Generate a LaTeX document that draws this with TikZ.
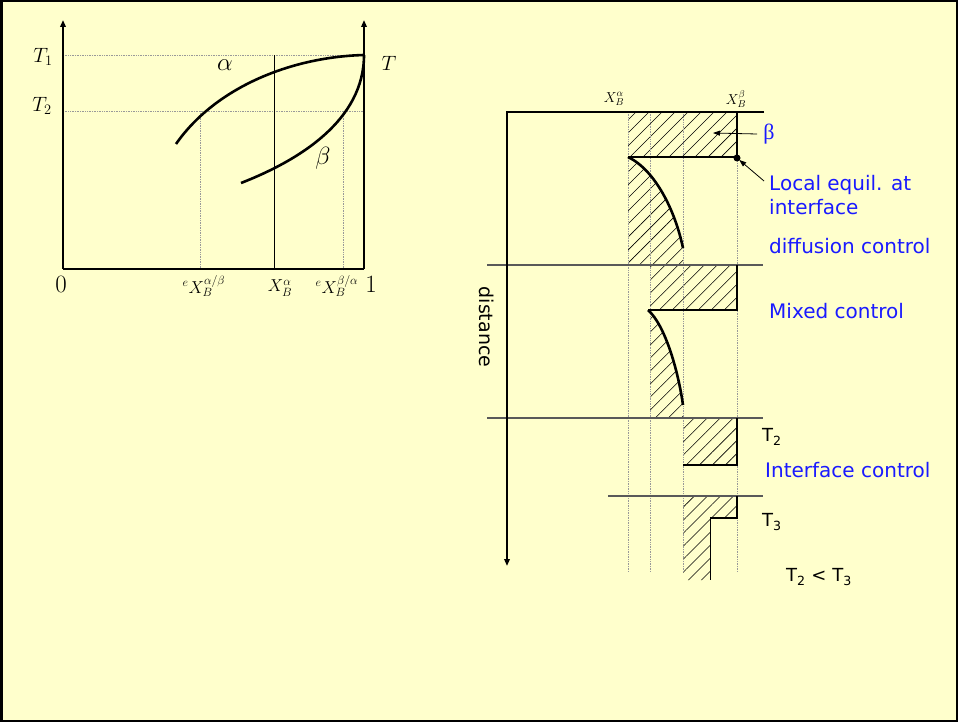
\documentclass[tikz,border=0pt]{standalone}
\usepackage{fontspec}
\newfontfamily\comicfont{DejaVu Sans}
\newfontfamily\greekfont{Liberation Serif}
\usetikzlibrary{arrows.meta,patterns.meta}
\definecolor{slideyellow}{RGB}{255,255,204}
\definecolor{labelblue}{RGB}{26,26,255}
\tikzset{
  axis/.style={black, line width=2pt, -{Triangle[length=7pt,width=5.5pt]}},
  guide/.style={black!40, line width=0.7pt, densely dotted},
  phase/.style={black, line width=2.6pt},
  front/.style={black, line width=2.6pt, line join=miter},
  sep/.style={black!65, line width=1.2pt},
  hatch/.style={pattern={Lines[angle=45,distance=9.2pt,line width=0.55pt]}},
  ptr/.style={-{Triangle[length=7pt,width=5pt]}, line width=0.8pt},
  mlab/.style={font=\fontsize{21}{23}\selectfont, inner sep=1pt},
  xlab/.style={font=\fontsize{17}{19}\selectfont, inner sep=1pt},
  biglab/.style={font=\fontsize{27}{30}\selectfont, inner sep=1pt},
  smalllab/.style={font=\fontsize{14}{16}\selectfont, inner sep=1pt},
  bluelab/.style={font=\comicfont\fontsize{20}{24}\selectfont, text=labelblue,
                  anchor=west, inner sep=0pt, align=left},
  blacklab/.style={font=\comicfont\fontsize{18}{20}\selectfont, anchor=west,
                   inner sep=0pt},
}

\begin{document}
\begin{tikzpicture}[x=1pt,y=-1pt]
  \path[use as bounding box, fill=slideyellow] (0,0) rectangle (958,722);
  \draw[black, line width=2.5pt] (1.25,1.25) rectangle (956.75,720.75);

  % Phase diagram: T against X_B.
  \draw[guide] (63,55) -- (364,55);
  \draw[guide] (63,111) -- (364,111);
  \draw[guide] (200,111) -- (200,269);
  \draw[guide] (343,111) -- (343,269);
  \draw[black, line width=0.8pt] (274,55) -- (274,269);
  \draw[axis] (63,269) -- (63,20);
  \draw[axis] (364,269) -- (364,20);
  \draw[black, line width=2pt] (63,269) -- (364,269);
  \draw[phase] (176,144) .. controls (215,88) and (290,57) .. (364,55);
  \draw[phase] (241,183) .. controls (300,160) and (364,120) .. (364,55);

  \node[mlab] (t1) at (43,57) {$T_1$};
  \node[mlab] (t2) at (42,106) {$T_2$};
  \node[mlab] (tt) at (389,63) {$T$};
  \node[biglab] (al) at (225,65) {$\alpha$};
  \node[biglab] (be) at (323,158) {$\beta$};
  \node[font=\fontsize{24}{26}\selectfont] (zero) at (61,284) {$0$};
  \node[font=\fontsize{24}{26}\selectfont] (one) at (371,284) {$1$};
  \node[xlab] (xab) at (204,286) {${}^{e}X_B^{\alpha/\beta}$};
  \node[xlab] (xa) at (280,288) {$X_B^{\alpha}$};
  \node[xlab] (xba) at (337,286) {${}^{e}X_B^{\beta/\alpha}$};

  % Concentration profiles against distance.
  \fill[hatch] (628,112) rectangle (737,157);
  \fill[hatch] (628,157) .. controls (655,170) and (675,210) .. (683,248)
    -- (683,265) -- (628,265) -- cycle;
  \fill[hatch] (650,265) rectangle (737,310);
  \fill[hatch] (650,310) .. controls (665,325) and (678,370) .. (683,405)
    -- (683,418) -- (650,418) -- cycle;
  \fill[hatch] (683,418) rectangle (737,465);
  \fill[hatch] (683,496) -- (737,496) -- (737,518) -- (710,518)
    -- (710,580) -- (683,580) -- cycle;

  \foreach \xx in {628,650,683,737}{
    \draw[guide] (\xx,112) -- (\xx,572);
  }
  \draw[sep] (487,265) -- (763,265);
  \draw[sep] (487,418) -- (763,418);
  \draw[sep] (608,496) -- (763,496);
  \draw[axis, line join=miter] (764,112) -- (507,112) -- (507,566);

  \draw[front] (737,112) -- (737,157) -- (628,157);
  \draw[front] (628,157) .. controls (655,170) and (675,210) .. (683,248);
  \draw[front] (737,265) -- (737,310) -- (648,310);
  \draw[front] (648,310) .. controls (665,325) and (678,370) .. (683,405);
  \draw[front] (737,418) -- (737,465) -- (683,465);
  \draw[front] (737,496) -- (737,518) -- (710,518);
  \draw[black, line width=1pt] (710,518) -- (710,580);
  \coordinate (eq) at (737,158);
  \fill (eq) circle (3.5);

  \node[smalllab] (xal) at (614,99) {$X_B^{\alpha}$};
  \node[smalllab] (xbe) at (736,99) {$X_B^{\beta}$};
  \node[font=\comicfont\fontsize{19}{22}\selectfont, rotate=-90] (dist)
    at (487,327) {distance};

  \coordinate (betatip) at (713,133);
  \node[font=\greekfont\fontsize{22}{24}\selectfont, text=labelblue,
        inner sep=6pt] (bphase) at (769,134) {β};
  \draw[ptr] (bphase.west) -- (betatip);

  \node[bluelab, anchor=north west] (loc) at (769,175)
    {Local equil. at\\interface};
  \draw[ptr, shorten >=3pt] ([shift={(-5,6)}]loc.north west) -- (eq);
  \node[bluelab] (diff) at (769,246) {diffusion control};
  \node[bluelab] (mixed) at (769,311) {Mixed control};
  \node[blacklab] (lt2) at (762,437) {T\textsubscript{2}};
  \node[bluelab] (intf) at (765,470) {Interface control};
  \node[blacklab] (lt3) at (762,522) {T\textsubscript{3}};
  \node[blacklab, anchor=center] (order) at (819,577)
    {T\textsubscript{2} < T\textsubscript{3}};
\end{tikzpicture}
\end{document}
